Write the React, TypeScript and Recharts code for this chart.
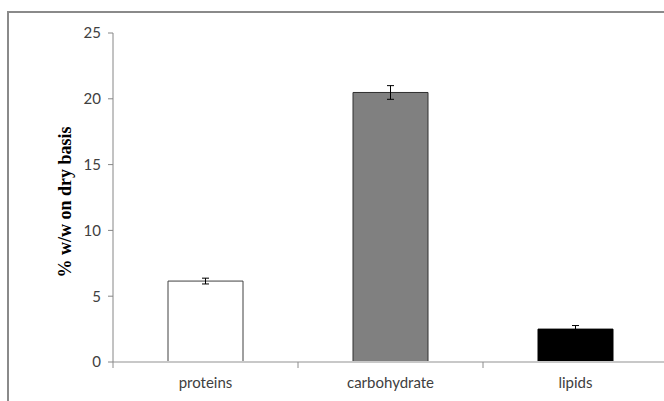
import React from 'react';
import { BarChart, Bar, XAxis, YAxis, ErrorBar, Cell } from 'recharts';

const categories = ['proteins', 'carbohydrate', 'lipids'];
const values = [6.15, 20.48, 2.5];
const errors = [0.22, 0.52, 0.27];
const yTicks = [0, 5, 10, 15, 20, 25];
const yLabel = '% w/w on dry basis';

const fills = ['#ffffff', '#808080', '#000000'];
const strokes = ['#404040', '#303030', '#000000'];

const data = categories.map((name, i) => ({ name, value: values[i], err: errors[i] }));

const BAND = 185;
const AXIS_Y = 362;

const XTick = (props: any) => {
  const { x, payload } = props;
  const bx = x - BAND / 2;
  return (
    <g>
      <line x1={bx} x2={bx} y1={AXIS_Y} y2={AXIS_Y + 6} stroke="#8c8c8c" strokeWidth={1} />
      <text
        x={x}
        y={AXIS_Y + 26}
        textAnchor="middle"
        fill="#404040"
        fontSize={15}
        fontFamily="Lato, 'Noto Sans', sans-serif"
      >
        {payload.value}
      </text>
    </g>
  );
};

const YLabel = () => (
  <text
    x={71}
    y={202}
    transform="rotate(-90 71 202)"
    textAnchor="middle"
    fill="#000"
    fontSize={18}
    fontWeight="bold"
    fontFamily="'Liberation Serif', 'Times New Roman', serif"
  >
    {yLabel}
  </text>
);

export default function App() {
  return (
    <div
      style={{
        position: 'absolute',
        left: 0,
        top: 0,
        width: 664,
        height: 401,
        overflow: 'hidden',
        background: '#fff',
      }}
    >
      <div
        style={{
          position: 'absolute',
          left: 7,
          top: 11,
          width: 800,
          height: 600,
          borderTop: '2px solid #8a8a8a',
          borderLeft: '2px solid #8a8a8a',
          boxSizing: 'border-box',
        }}
      />
      <div style={{ position: 'absolute', left: 0, top: 0 }}>
        <BarChart
          width={680}
          height={401}
          data={data}
          margin={{ top: 33, right: 12, bottom: 9, left: 0 }}
          barSize={75}
        >
          <XAxis
            dataKey="name"
            height={30}
            axisLine={{ stroke: '#c8c8c8', strokeWidth: 2 }}
            tickLine={false}
            tick={<XTick />}
            interval={0}
          />
          <YAxis
            width={113}
            domain={[0, 25]}
            ticks={yTicks}
            interval={0}
            axisLine={{ stroke: '#868686' }}
            tickLine={{ stroke: '#868686' }}
            tickSize={5}
            tickMargin={7}
            tick={{ fill: '#404040', fontSize: 15, fontFamily: "Lato, 'Noto Sans', sans-serif" }}
            label={<YLabel />}
          />
          <Bar dataKey="value" isAnimationActive={false} strokeWidth={1}>
            {data.map((d, i) => (
              <Cell key={d.name} fill={fills[i]} stroke={strokes[i]} />
            ))}
            <ErrorBar dataKey="err" width={3.5} stroke="#000" strokeWidth={1} />
          </Bar>
        </BarChart>
      </div>
    </div>
  );
}
